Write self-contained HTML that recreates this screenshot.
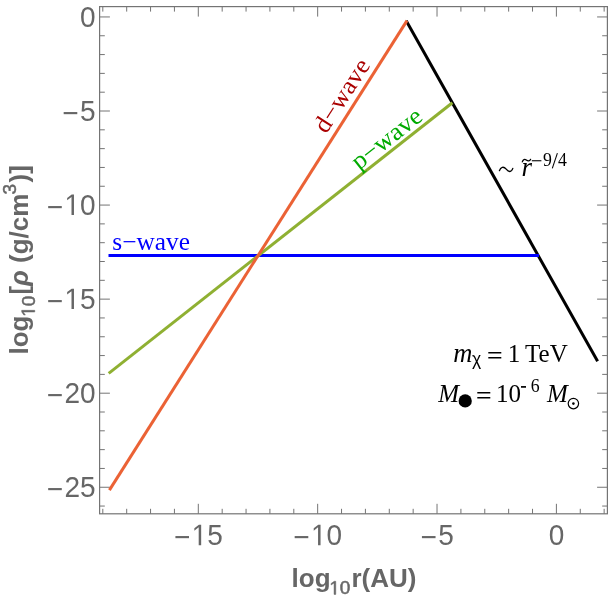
<!DOCTYPE html>
<html><head><meta charset="utf-8"><title>plot</title>
<style>
html,body{margin:0;padding:0;background:#fff;}
body{width:612px;height:599px;overflow:hidden;}
svg{display:block;will-change:transform;}
text{white-space:pre;}
.ss{font-family:"Liberation Sans",sans-serif;}
.sf{font-family:"Liberation Serif",serif;}
</style></head><body>
<svg width="612" height="599" viewBox="0 0 612 599">
<rect x="0" y="0" width="612" height="599" fill="#fff"/>
<path d="M102.81 513.8 V508.80 M102.81 6.6 V11.60 M126.69 513.8 V508.80 M126.69 6.6 V11.60 M150.56 513.8 V508.80 M150.56 6.6 V11.60 M174.43 513.8 V508.80 M174.43 6.6 V11.60 M198.30 513.8 V503.80 M198.30 6.6 V16.60 M222.18 513.8 V508.80 M222.18 6.6 V11.60 M246.05 513.8 V508.80 M246.05 6.6 V11.60 M269.92 513.8 V508.80 M269.92 6.6 V11.60 M293.80 513.8 V508.80 M293.80 6.6 V11.60 M317.67 513.8 V503.80 M317.67 6.6 V16.60 M341.54 513.8 V508.80 M341.54 6.6 V11.60 M365.42 513.8 V508.80 M365.42 6.6 V11.60 M389.29 513.8 V508.80 M389.29 6.6 V11.60 M413.16 513.8 V508.80 M413.16 6.6 V11.60 M437.03 513.8 V503.80 M437.03 6.6 V16.60 M460.91 513.8 V508.80 M460.91 6.6 V11.60 M484.78 513.8 V508.80 M484.78 6.6 V11.60 M508.65 513.8 V508.80 M508.65 6.6 V11.60 M532.53 513.8 V508.80 M532.53 6.6 V11.60 M556.40 513.8 V503.80 M556.40 6.6 V16.60 M580.27 513.8 V508.80 M580.27 6.6 V11.60 M604.15 513.8 V508.80 M604.15 6.6 V11.60 M99.6 506.06 H104.80 M607.4 506.06 H602.20 M99.6 487.25 H109.90 M607.4 487.25 H597.10 M99.6 468.44 H104.80 M607.4 468.44 H602.20 M99.6 449.63 H104.80 M607.4 449.63 H602.20 M99.6 430.81 H104.80 M607.4 430.81 H602.20 M99.6 412.00 H104.80 M607.4 412.00 H602.20 M99.6 393.19 H109.90 M607.4 393.19 H597.10 M99.6 374.38 H104.80 M607.4 374.38 H602.20 M99.6 355.57 H104.80 M607.4 355.57 H602.20 M99.6 336.75 H104.80 M607.4 336.75 H602.20 M99.6 317.94 H104.80 M607.4 317.94 H602.20 M99.6 299.13 H109.90 M607.4 299.13 H597.10 M99.6 280.32 H104.80 M607.4 280.32 H602.20 M99.6 261.51 H104.80 M607.4 261.51 H602.20 M99.6 242.69 H104.80 M607.4 242.69 H602.20 M99.6 223.88 H104.80 M607.4 223.88 H602.20 M99.6 205.07 H109.90 M607.4 205.07 H597.10 M99.6 186.26 H104.80 M607.4 186.26 H602.20 M99.6 167.45 H104.80 M607.4 167.45 H602.20 M99.6 148.63 H104.80 M607.4 148.63 H602.20 M99.6 129.82 H104.80 M607.4 129.82 H602.20 M99.6 111.01 H109.90 M607.4 111.01 H597.10 M99.6 92.20 H104.80 M607.4 92.20 H602.20 M99.6 73.39 H104.80 M607.4 73.39 H602.20 M99.6 54.57 H104.80 M607.4 54.57 H602.20 M99.6 35.76 H104.80 M607.4 35.76 H602.20 M99.6 16.95 H109.90 M607.4 16.95 H597.10" stroke="#747474" stroke-width="1" fill="none"/>
<rect x="99.6" y="6.6" width="507.80" height="507.20" fill="none" stroke="#747474" stroke-width="1.2"/>
<g fill="none" stroke-width="3" stroke-linecap="butt">
<path d="M406.2 20.7 L597.6 361.3" stroke="#000"/>
<path d="M108.5 255.4 L539.0 255.4" stroke="#0000FF"/>
<path d="M108.7 373.4 L452.4 102.8" stroke="#8FB032"/>
<path d="M109.4 490.1 L407.0 20.6" stroke="#EB6235"/>
</g>
<g class="ss" font-size="28" fill="#666">
<g transform="translate(0,486.83) scale(1,1.06) translate(0,-486.83)"><text x="46.80" y="498.50">−</text><text x="64.46" y="496.60">2</text><text x="80.03" y="496.60">5</text></g>
<g transform="translate(0,392.77) scale(1,1.06) translate(0,-392.77)"><text x="46.80" y="404.44">−</text><text x="64.46" y="402.54">2</text><text x="80.03" y="402.54">0</text></g>
<g transform="translate(0,298.71) scale(1,1.06) translate(0,-298.71)"><text x="46.80" y="310.38">−</text><path d="M71.50 308.48 L71.50 291.57 L67.15 294.67 L67.15 292.35 L71.70 289.22 L73.97 289.22 L73.97 308.48Z"/><text x="80.03" y="308.48">5</text></g>
<g transform="translate(0,204.65) scale(1,1.06) translate(0,-204.65)"><text x="46.80" y="216.32">−</text><path d="M71.50 214.42 L71.50 197.51 L67.15 200.61 L67.15 198.29 L71.70 195.16 L73.97 195.16 L73.97 214.42Z"/><text x="80.03" y="214.42">0</text></g>
<g transform="translate(0,110.59) scale(1,1.06) translate(0,-110.59)"><text x="62.38" y="122.26">−</text><text x="80.03" y="120.36">5</text></g>
<g transform="translate(0,16.53) scale(1,1.06) translate(0,-16.53)"><text x="80.03" y="26.30">0</text></g>
<g transform="translate(0,534.93) scale(1,1.06) translate(0,-534.93)"><text x="174.01" y="546.60">−</text><path d="M198.70 544.70 L198.70 527.79 L194.35 530.89 L194.35 528.57 L198.90 525.44 L201.17 525.44 L201.17 544.70Z"/><text x="207.23" y="544.70">5</text></g>
<g transform="translate(0,534.93) scale(1,1.06) translate(0,-534.93)"><text x="293.37" y="546.60">−</text><path d="M318.06 544.70 L318.06 527.79 L313.72 530.89 L313.72 528.57 L318.27 525.44 L320.54 525.44 L320.54 544.70Z"/><text x="326.60" y="544.70">0</text></g>
<g transform="translate(0,534.93) scale(1,1.06) translate(0,-534.93)"><text x="420.52" y="546.60">−</text><text x="438.17" y="544.70">5</text></g>
<g transform="translate(0,534.93) scale(1,1.06) translate(0,-534.93)"><text x="548.71" y="544.70">0</text></g>
</g>
<g fill="#666">
<text class="ss" font-weight="bold" font-size="26" y="587.4"><tspan x="291.6">log</tspan><tspan x="351.5">r(AU)</tspan></text>
<g stroke="#666" stroke-width="0.5"><path d="M334.08 594.40 L334.08 582.92 L331.13 585.03 L331.13 583.45 L334.22 581.33 L335.76 581.33 L335.76 594.40Z"/><text class="ss" font-size="19" x="339.87" y="594.40">0</text></g>
<g transform="translate(27.75,354.5) rotate(-90)">
<text class="ss" font-weight="bold" font-size="26" y="0"><tspan x="0">log</tspan><tspan x="59.9">[</tspan><tspan font-style="italic">ρ</tspan> (g/cm<tspan x="172">)]</tspan></text>
<g stroke="#666" stroke-width="0.5"><path d="M42.48 7.00 L42.48 -4.48 L39.53 -2.37 L39.53 -3.95 L42.62 -6.07 L44.16 -6.07 L44.16 7.00Z"/><text class="ss" font-size="19" x="48.27" y="7.00">0</text></g>
<text class="ss" font-size="19" x="159.9" y="-11.75" stroke="#666" stroke-width="0.5">3</text>
</g></g>
<text class="sf" font-size="25" fill="#0000FF" x="112.3" y="249.8" textLength="77.6" lengthAdjust="spacingAndGlyphs">s−wave</text>
<text class="sf" font-size="25" fill="#AA0000" transform="translate(326.3,134.5) rotate(-57.2)" textLength="82.3" lengthAdjust="spacingAndGlyphs">d−wave</text>
<text class="sf" font-size="25" fill="#00AA00" transform="translate(359.0,170.6) rotate(-38.3)" textLength="83" lengthAdjust="spacingAndGlyphs">p−wave</text>
<path d="M499.4 170.7 C500.6 167.0 503.6 166.0 506.2 169.2 C508.6 172.2 511.4 172.6 512.8 168.4" fill="none" stroke="#000" stroke-width="1.3" stroke-linecap="round"/>
<text class="sf" font-size="27" fill="#000" font-style="italic" x="521.4" y="175.7">r</text>
<path d="M522.3 161.9 C523.0 159.4 524.7 158.9 526.3 160.1 C527.9 161.3 529.7 161.4 530.6 159.3" fill="none" stroke="#000" stroke-width="1.3" stroke-linecap="round"/>
<text class="sf" font-size="17.8" fill="#000" y="166"><tspan x="543.1">9</tspan><tspan x="558.1">4</tspan></text>
<path d="M531.8 160.75 H541.4" fill="none" stroke="#000" stroke-width="1.1"/>
<path d="M552.3 168.3 L557.4 153.1" fill="none" stroke="#000" stroke-width="1.05"/>
<text class="sf" font-size="25" fill="#000" y="361.8"><tspan x="453.3" font-style="italic" font-size="26.5">m</tspan><tspan x="507.7">1</tspan><tspan x="525.1">TeV</tspan></text>
<text class="ss" font-size="17.5" fill="#000" x="472" y="365">χ</text>
<path d="M488.3 352.75 H501.3 M488.3 357.75 H501.3 M477.3 392.75 H490.3 M477.3 397.75 H490.3" fill="none" stroke="#000" stroke-width="1.3"/>
<text class="sf" font-size="25" fill="#000" y="401.7"><tspan x="438.3" font-style="italic">M</tspan><tspan x="496.1">10</tspan><tspan x="547.1" font-style="italic">M</tspan></text>
<circle cx="465.2" cy="400.9" r="6.6" fill="#000"/>
<text class="sf" font-size="17.8" fill="#000" x="530.8" y="391.8">6</text>
<path d="M521.0 386.9 H526.0" fill="none" stroke="#000" stroke-width="1.7"/>
<circle cx="573.4" cy="403.6" r="5.2" fill="none" stroke="#000" stroke-width="1.2"/><circle cx="573.4" cy="403.6" r="1.3" fill="#000"/>
</svg></body></html>
